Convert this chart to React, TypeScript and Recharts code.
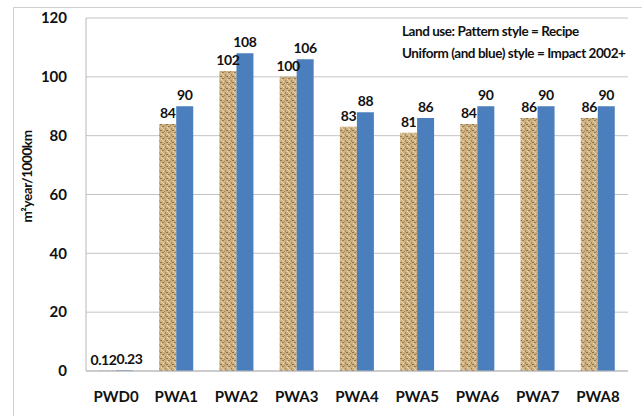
import { Bar, BarChart, CartesianGrid, LabelList, XAxis, YAxis } from "recharts";

const categories = ["PWD0", "PWA1", "PWA2", "PWA3", "PWA4", "PWA5", "PWA6", "PWA7", "PWA8"];
const recipe = [0.12, 84, 102, 100, 83, 81, 84, 86, 86];
const impact = [0.23, 90, 108, 106, 88, 86, 90, 90, 90];
const yTicks = [0, 20, 40, 60, 80, 100, 120];

const data = categories.map((name, i) => ({ name, recipe: recipe[i], impact: impact[i] }));

const FONT = "Lato, 'Open Sans', sans-serif";

// small values sit side by side at the baseline, push them apart a bit
function makeLabel(shift: number) {
  return (props: any) => {
    const { x, y, width, value } = props;
    const dx = value < 1 ? shift : 0;
    return (
      <text
        x={x + width / 2 + dx}
        y={y - 6}
        textAnchor="middle"
        fill="#111"
        fontSize={14}
        fontWeight={700}
        fontFamily={FONT}
        letterSpacing={-0.4}
      >
        {value}
      </text>
    );
  };
}

function YTitle(props: any) {
  const vb = props.viewBox || { x: 16, y: 18, height: 353 };
  const cx = vb.x + 11;
  const cy = vb.y + vb.height / 2 - 18;
  return (
    <text
      x={cx}
      y={cy}
      transform={`rotate(-90, ${cx}, ${cy})`}
      textAnchor="middle"
      dominantBaseline="central"
      fill="#111"
      fontSize={13.5}
      fontWeight={700}
      fontFamily={FONT}
      letterSpacing={-0.4}
    >
      m²year/1000km
    </text>
  );
}

export default function App() {
  return (
    <div
      style={{
        position: "fixed",
        left: 0,
        top: 0,
        width: 642,
        height: 416,
        background: "#fff",
        fontFamily: FONT,
      }}
    >
      <div
        style={{
          position: "absolute",
          left: 13,
          top: 7,
          width: 640,
          height: 420,
          border: "1px solid #d0d0d0",
        }}
      />
      <BarChart
        width={642}
        height={416}
        data={data}
        barGap={0}
        barSize={17}
        margin={{ top: 18, right: 14, left: 16, bottom: 0 }}
      >
        <defs>
          <pattern id="burlap" width="6" height="6" patternUnits="userSpaceOnUse">
            <rect width="6" height="6" fill="#cdb182" />
            <rect x="0" y="0" width="2" height="1" fill="#9c7e4c" />
            <rect x="3" y="2" width="1" height="2" fill="#a88a58" />
            <rect x="4" y="4" width="2" height="1" fill="#8f7242" />
            <rect x="1" y="3" width="1" height="1" fill="#eadcba" />
            <rect x="5" y="1" width="1" height="1" fill="#eadcba" />
            <rect x="2" y="5" width="1" height="1" fill="#a68856" />
            <rect x="0" y="2" width="1" height="1" fill="#e2cfa6" />
          </pattern>
        </defs>
        <CartesianGrid vertical={false} stroke="#c4c4c4" />
        <XAxis
          dataKey="name"
          height={45}
          axisLine={{ stroke: "#b8b8b8" }}
          tickLine={false}
          tick={{ fill: "#111", fontSize: 15, fontWeight: 700, fontFamily: FONT }}
          tickMargin={14}
        />
        <YAxis
          width={70}
          domain={[0, 120]}
          ticks={yTicks}
          axisLine={{ stroke: "#b8b8b8" }}
          tickLine={false}
          tickMargin={13}
          tick={{ fill: "#111", fontSize: 15, fontWeight: 700, fontFamily: FONT }}
          label={<YTitle />}
        />
        <Bar dataKey="recipe" fill="url(#burlap)" isAnimationActive={false}>
          <LabelList dataKey="recipe" content={makeLabel(-4)} />
        </Bar>
        <Bar dataKey="impact" fill="#4a7ebd" isAnimationActive={false}>
          <LabelList dataKey="impact" content={makeLabel(5)} />
        </Bar>
      </BarChart>
      <div
        style={{
          position: "absolute",
          left: 402,
          top: 20,
          fontSize: 13.5,
          fontWeight: 700,
          lineHeight: "22px",
          letterSpacing: -0.45,
          color: "#111",
          whiteSpace: "nowrap",
        }}
      >
        <div>Land use: Pattern style = Recipe</div>
        <div>Uniform (and blue) style = Impact 2002+</div>
      </div>
    </div>
  );
}
